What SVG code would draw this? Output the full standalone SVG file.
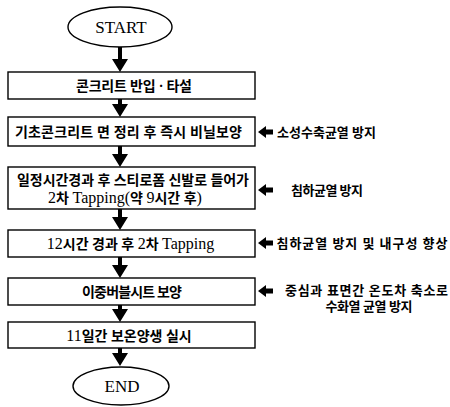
<svg xmlns="http://www.w3.org/2000/svg" width="450" height="407" viewBox="0 0 450 407">
<defs>
<style>
.bg{fill:#fff}
.node{fill:#fff;stroke:#000;stroke-width:1.4}
.t{font-family:"Liberation Serif","Noto Sans CJK KR",serif;font-size:14px;font-weight:bold;fill:#000;text-anchor:middle}
.a{font-family:"Liberation Serif","Noto Sans CJK KR",serif;font-size:13px;font-weight:bold;fill:#000;text-anchor:middle}
.n{font-weight:normal;font-size:16px}
.se{font-family:"Liberation Serif",serif;font-size:17px;fill:#000;text-anchor:middle}
.arr{fill:#000}
</style>
</defs>
<rect class="bg" x="0" y="0" width="450" height="407"/>

<g id="connectors">
  <path class="arr" d="M118,47 h4 v12 h6 l-8,13 l-8,-13 h6 z"/>
  <path class="arr" d="M118,99 h4 v5 h6 l-8,13 l-8,-13 h6 z"/>
  <path class="arr" d="M118,146 h4 v8 h6 l-8,13 l-8,-13 h6 z"/>
  <path class="arr" d="M118,209 h4 v8 h6 l-8,13 l-8,-13 h6 z"/>
  <path class="arr" d="M118,257 h4 v8 h6 l-8,13 l-8,-13 h6 z"/>
  <path class="arr" d="M118,305 h4 v4 h6 l-8,13 l-8,-13 h6 z"/>
  <path class="arr" d="M118,348 h4 v5 h6 l-8,13 l-8,-13 h6 z"/>
  <path class="arr" d="M258,132 l8,-6 v3.6 h7 v4.8 h-7 v3.6 z"/>
  <path class="arr" d="M258,190 l8,-6 v3.6 h7 v4.8 h-7 v3.6 z"/>
  <path class="arr" d="M258,243 l8,-6 v3.6 h7 v4.8 h-7 v3.6 z"/>
  <path class="arr" d="M258,291 l8,-6 v3.6 h7 v4.8 h-7 v3.6 z"/>
</g>

<g id="start">
  <ellipse class="node" cx="120" cy="27" rx="52" ry="20"/>
  <text class="se" x="121" y="33">START</text>
</g>

<g id="box1">
  <rect class="node" x="8" y="72" width="247" height="27"/>
  <text class="t" x="134" y="90.5" textLength="116" lengthAdjust="spacing">콘크리트 반입 · 타설</text>
</g>

<g id="box2">
  <rect class="node" x="8" y="117" width="247" height="29"/>
  <text class="t" x="128.5" y="136.5" textLength="227" lengthAdjust="spacing">기초콘크리트 면 정리 후 즉시 비닐보양</text>
</g>

<g id="box3">
  <rect class="node" x="8" y="167" width="247" height="42"/>
  <text class="t" x="133" y="185" textLength="232" lengthAdjust="spacing">일정시간경과 후 스티로폼 신발로 들어가</text>
  <text class="t" x="125" y="202.5"><tspan class="n">2</tspan>차 <tspan class="n">Tapping(</tspan>약 <tspan class="n">9</tspan>시간 후<tspan class="n">)</tspan></text>
</g>

<g id="box4">
  <rect class="node" x="8" y="230" width="247" height="27"/>
  <text class="t" x="130.5" y="249"><tspan class="n">12</tspan>시간 경과 후 <tspan class="n">2</tspan>차 <tspan class="n">Tapping</tspan></text>
</g>

<g id="box5">
  <rect class="node" x="8" y="278" width="247" height="27"/>
  <text class="t" x="132" y="296.5" textLength="100" lengthAdjust="spacing">이중버블시트 보양</text>
</g>

<g id="box6">
  <rect class="node" x="8" y="322" width="247" height="26"/>
  <text class="t" x="129" y="340.5"><tspan class="n">11</tspan>일간 보온양생 실시</text>
</g>

<g id="end">
  <ellipse class="node" cx="121" cy="386" rx="48" ry="19"/>
  <text class="se" x="122" y="392">END</text>
</g>

<g id="notes">
  <text class="a" x="326.5" y="137" textLength="99" lengthAdjust="spacing">소성수축균열 방지</text>
  <text class="a" x="327" y="195" textLength="72" lengthAdjust="spacing">침하균열 방지</text>
  <text class="a" x="362" y="248" textLength="171" lengthAdjust="spacing">침하균열 방지 및 내구성 향상</text>
  <text class="a" x="366.5" y="295" textLength="163" lengthAdjust="spacing">중심과 표면간 온도차 축소로</text>
  <text class="a" x="369" y="311" textLength="87" lengthAdjust="spacing">수화열 균열 방지</text>
</g>
</svg>
